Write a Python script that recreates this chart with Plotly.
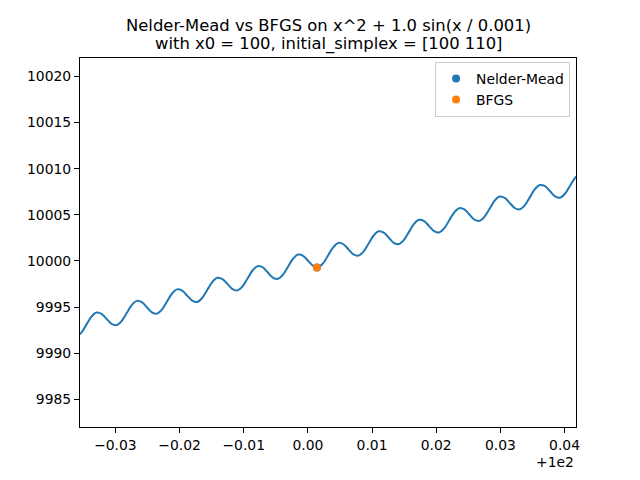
import plotly.graph_objects as go

# x offsets from 100 and function values
x_offset = [-0.036093, -0.035307, -0.034522, -0.033736, -0.032951, -0.032166,
            -0.031380, -0.030595, -0.029809, -0.029024, -0.028239, -0.027453,
            -0.026668, -0.025882, -0.025097, -0.024312, -0.023526, -0.022741,
            -0.021955, -0.021170, -0.020385, -0.019599, -0.018814, -0.018028,
            -0.017243, -0.016458, -0.015672, -0.014887, -0.014101, -0.013316,
            -0.012531, -0.011745, -0.010960, -0.010174, -0.009389, -0.008604,
            -0.007818, -0.007033, -0.006247, -0.005462, -0.004677, -0.003891,
            -0.003106, -0.002320, -0.001535, -0.000750, 0.000036, 0.000821,
            0.001607, 0.002392, 0.003177, 0.003963, 0.004748, 0.005534,
            0.006319, 0.007104, 0.007890, 0.008675, 0.009461, 0.010246,
            0.011031, 0.011817, 0.012602, 0.013388, 0.014173, 0.014958,
            0.015744, 0.016529, 0.017315, 0.018100, 0.018885, 0.019671,
            0.020456, 0.021242, 0.022027, 0.022812, 0.023598, 0.024383,
            0.025169, 0.025954, 0.026739, 0.027525, 0.028310, 0.029096,
            0.029881, 0.030666, 0.031452, 0.032237, 0.033023, 0.033808,
            0.034593, 0.035379, 0.036164, 0.036950, 0.037735, 0.038520,
            0.039306, 0.040091, 0.040877, 0.041662, 0.042447]
y_values = [9991.78, 9992.23, 9993.10, 9993.96, 9994.41, 9994.27,
            9993.72, 9993.17, 9993.04, 9993.49, 9994.35, 9995.22,
            9995.67, 9995.53, 9994.98, 9994.43, 9994.29, 9994.74,
            9995.61, 9996.47, 9996.92, 9996.79, 9996.24, 9995.69,
            9995.55, 9996.00, 9996.87, 9997.73, 9998.18, 9998.04,
            9997.49, 9996.94, 9996.81, 9997.26, 9998.12, 9998.99,
            9999.44, 9999.30, 9998.75, 9998.20, 9998.06, 9998.51,
            9999.38, 10000.24, 10000.69, 10000.56, 10000.01, 9999.46,
            9999.32, 9999.77, 10000.64, 10001.50, 10001.95, 10001.81,
            10001.26, 10000.71, 10000.58, 10001.03, 10001.89, 10002.76,
            10003.21, 10003.07, 10002.52, 10001.97, 10001.83, 10002.28,
            10003.15, 10004.01, 10004.46, 10004.33, 10003.78, 10003.23,
            10003.09, 10003.54, 10004.41, 10005.27, 10005.72, 10005.58,
            10005.03, 10004.48, 10004.35, 10004.80, 10005.66, 10006.53,
            10006.98, 10006.84, 10006.29, 10005.74, 10005.60, 10006.05,
            10006.92, 10007.78, 10008.23, 10008.10, 10007.55, 10007.00,
            10006.86, 10007.31, 10008.18, 10009.04, 10009.49]

nm_x = [0.0014]
nm_y = [9999.30]
bfgs_x = [0.0014]
bfgs_y = [9999.30]

x_ticks = [-0.03, -0.02, -0.01, 0.00, 0.01, 0.02, 0.03, 0.04]
x_tick_labels = ["\u22120.03", "\u22120.02", "\u22120.01", "0.00", "0.01", "0.02", "0.03", "0.04"]
y_ticks = [9985, 9990, 9995, 10000, 10005, 10010, 10015, 10020]

FONT = "DejaVu Sans"

fig = go.Figure()
fig.add_trace(go.Scatter(x=x_offset, y=y_values, mode="lines",
                         line=dict(color="#1f77b4", width=2, shape="spline", smoothing=1),
                         showlegend=False, hoverinfo="skip"))
fig.add_trace(go.Scatter(x=nm_x, y=nm_y, mode="markers", name="Nelder-Mead",
                         marker=dict(color="#1f77b4", size=8)))
fig.add_trace(go.Scatter(x=bfgs_x, y=bfgs_y, mode="markers", name="BFGS",
                         marker=dict(color="#ff7f0e", size=8)))

axis_common = dict(showline=True, mirror=True, linecolor="black", linewidth=1,
                   ticks="outside", ticklen=5, tickwidth=1, tickcolor="black",
                   showgrid=False, zeroline=False,
                   tickfont=dict(family=FONT, size=13.9, color="black"))

fig.update_xaxes(range=[-0.03552, 0.04178], tickvals=x_ticks, ticktext=x_tick_labels,
                 **axis_common)
fig.update_yaxes(range=[9982.0, 10022.0], tickvals=y_ticks,
                 ticktext=[str(v) for v in y_ticks], **axis_common)

fig.update_layout(
    width=640, height=480,
    margin=dict(l=80, r=64, t=58, b=53),
    plot_bgcolor="white", paper_bgcolor="white",
    font=dict(family=FONT, color="black"),
    legend=dict(x=0.988, y=1 - (62 - 58) / 369, xanchor="right", yanchor="top",
                bgcolor="rgba(255,255,255,0.8)", bordercolor="#cccccc", borderwidth=1,
                font=dict(family=FONT, size=13.9, color="black"),
                tracegroupgap=0, itemwidth=30),
    annotations=[
        dict(text="Nelder-Mead vs BFGS on x^2 + 1.0 sin(x / 0.001)", xref="paper", yref="paper",
             x=0.5, y=1 + (58 - 25.5) / 369, xanchor="center", yanchor="middle", showarrow=False,
             font=dict(family=FONT, size=16.4, color="black")),
        dict(text="with x0 = 100, initial_simplex = [100 110]", xref="paper", yref="paper",
             x=0.5, y=1 + (58 - 43.5) / 369, xanchor="center", yanchor="middle", showarrow=False,
             font=dict(family=FONT, size=16.4, color="black")),
        dict(text="+1e2", xref="paper", yref="paper",
             x=1, y=-(462 - 427) / 369, xanchor="right", yanchor="middle", showarrow=False,
             font=dict(family=FONT, size=13.9, color="black")),
    ],
)

fig.write_html("out.html")
